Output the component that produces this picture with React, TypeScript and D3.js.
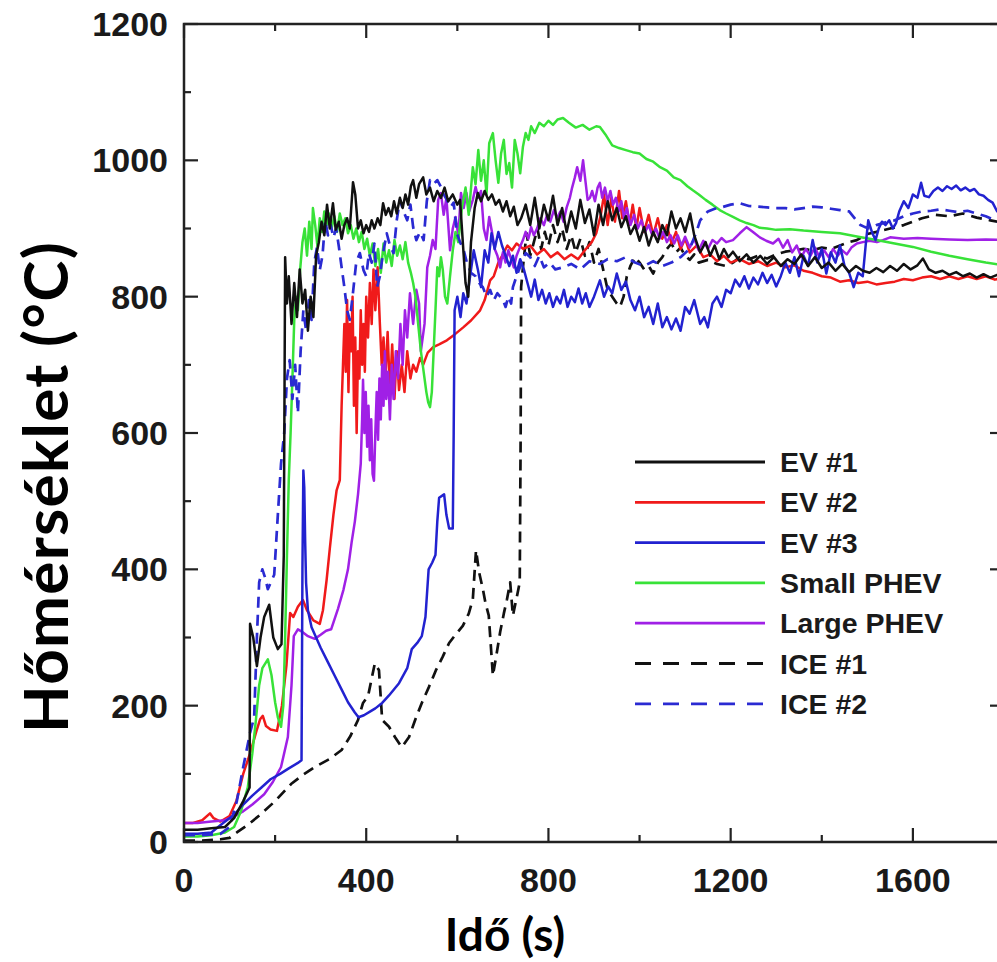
import React from "react";
import * as d3 from "d3";

type Pt = [number, number];

const xTicks = [0, 400, 800, 1200, 1600];
const yTicks = [0, 200, 400, 600, 800, 1000, 1200];
const seriesNames = ["EV #1", "EV #2", "EV #3", "Small PHEV", "Large PHEV", "ICE #1", "ICE #2"];

const ev1: Pt[] = [[0,18],[30,18],[60,20],[90,22],[110,35],[130,60],[144,80],[145,320],[152,300],[160,258],[168,300],[176,330],[187,348],[196,300],[206,283],[214,290],[219,420],[222,858],[226,790],[230,830],[236,760],[242,820],[248,770],[254,840],[260,790],[266,810],[272,750],[278,800],[284,770],[290,860],[296,880],[302,910],[308,890],[314,935],[320,900],[327,937],[333,898],[340,910],[346,885],[352,905],[358,915],[364,900],[371,968],[376,950],[382,900],[388,912],[394,893],[400,905],[406,895],[412,912],[418,900],[425,915],[431,905],[437,937],[443,920],[449,930],[455,918],[461,940],[467,922],[474,945],[480,930],[486,950],[492,935],[498,962],[503,971],[510,945],[516,965],[525,975],[532,950],[540,960],[548,940],[556,955],[564,945],[572,960],[580,940],[590,950],[600,935],[606,942],[612,880],[618,820],[624,800],[630,880],[638,930],[645,952],[652,940],[660,955],[668,942],[676,950],[684,935],[692,942],[700,925],[708,940],[716,918],[724,932],[732,905],[740,915],[750,935],[760,905],[770,945],[780,900],[790,935],[800,912],[810,948],[820,905],[830,930],[840,895],[850,925],[860,900],[870,942],[880,908],[890,928],[900,890],[910,935],[920,905],[930,940],[940,912],[950,930],[960,902],[970,918],[980,892],[990,905],[1000,882],[1010,902],[1020,875],[1030,895],[1040,880],[1050,905],[1060,890],[1070,925],[1080,900],[1090,915],[1100,895],[1111,922],[1120,890],[1133,865],[1145,880],[1155,860],[1165,875],[1175,855],[1185,870],[1195,858],[1205,866],[1220,852],[1235,862],[1250,850],[1265,860],[1280,848],[1295,858],[1310,845],[1325,855],[1340,848],[1355,862],[1370,845],[1385,858],[1400,842],[1415,850],[1430,838],[1445,848],[1460,836],[1475,845],[1490,838],[1505,835],[1520,842],[1535,836],[1550,845],[1565,838],[1580,848],[1595,840],[1610,846],[1622,856],[1635,840],[1650,835],[1665,838],[1680,832],[1695,836],[1710,830],[1725,834],[1740,828],[1755,833],[1770,828],[1785,832],[1800,828]];

const ev2: Pt[] = [[0,28],[20,28],[40,32],[57,42],[65,35],[80,30],[100,38],[115,60],[130,100],[145,130],[160,165],[167,180],[173,185],[180,170],[190,165],[204,163],[215,200],[225,260],[233,336],[240,330],[250,345],[261,355],[270,340],[284,325],[298,320],[305,340],[313,384],[320,430],[328,480],[335,516],[342,531],[346,640],[349,700],[352,760],[355,690],[358,795],[361,660],[364,760],[367,720],[370,800],[373,640],[376,740],[379,600],[382,720],[385,680],[388,780],[391,700],[394,760],[397,690],[400,800],[404,740],[408,820],[412,760],[416,840],[420,780],[425,843],[430,760],[434,700],[438,740],[442,680],[447,748],[452,660],[457,730],[462,650],[467,720],[472,663],[478,700],[484,660],[490,720],[497,680],[503,700],[510,690],[518,710],[525,700],[535,718],[547,726],[560,730],[577,736],[595,745],[613,755],[630,765],[650,780],[660,795],[672,824],[680,830],[690,850],[700,862],[710,875],[720,868],[730,878],[745,870],[760,875],[775,862],[790,870],[805,858],[820,865],[835,855],[850,862],[865,855],[880,868],[895,880],[905,893],[915,920],[922,950],[930,905],[938,945],[946,910],[955,955],[962,915],[970,940],[978,905],[985,935],[993,900],[1000,930],[1010,895],[1020,920],[1030,890],[1040,915],[1050,885],[1060,905],[1070,878],[1080,895],[1090,870],[1100,885],[1110,865],[1125,875],[1140,858],[1155,862],[1170,852],[1185,860],[1200,850],[1220,855],[1240,848],[1260,852],[1280,845],[1300,850],[1320,843],[1340,846],[1360,838],[1380,835],[1400,830],[1420,828],[1440,822],[1460,824],[1480,820],[1500,822],[1520,818],[1540,820],[1560,822],[1580,826],[1600,824],[1620,828],[1640,830],[1660,826],[1680,830],[1700,826],[1720,830],[1740,826],[1760,830],[1780,825],[1800,828]];

const ev3: Pt[] = [[0,12],[30,12],[60,14],[86,28],[110,40],[130,55],[150,68],[170,80],[190,92],[211,100],[230,108],[250,116],[258,120],[260,400],[262,545],[264,520],[266,440],[268,380],[272,340],[280,315],[290,300],[300,285],[315,265],[330,245],[345,225],[360,205],[375,190],[383,183],[395,186],[410,192],[420,196],[435,204],[450,215],[472,233],[490,255],[500,283],[512,292],[522,302],[530,330],[537,400],[545,410],[552,421],[556,470],[560,505],[571,510],[576,480],[582,460],[590,460],[592,600],[594,780],[600,800],[607,770],[613,805],[620,790],[628,830],[636,868],[645,840],[652,814],[660,868],[668,850],[675,893],[682,870],[690,895],[698,875],[706,860],[714,845],[722,860],[730,835],[738,855],[746,840],[754,820],[762,800],[770,825],[778,795],[786,810],[794,790],[802,805],[810,785],[818,800],[826,790],[834,810],[842,785],[850,800],[858,792],[866,812],[874,790],[882,805],[890,785],[900,800],[913,824],[922,800],[931,815],[940,805],[950,834],[960,810],[970,822],[980,795],[990,780],[1000,800],[1010,770],[1020,785],[1030,760],[1040,790],[1050,755],[1060,770],[1070,752],[1080,768],[1090,750],[1100,785],[1110,775],[1120,795],[1133,760],[1142,770],[1150,755],[1160,790],[1170,800],[1180,785],[1190,810],[1200,805],[1210,825],[1220,815],[1230,830],[1240,812],[1250,828],[1260,818],[1270,835],[1280,820],[1290,832],[1300,815],[1310,830],[1320,850],[1330,835],[1340,858],[1350,830],[1360,860],[1370,845],[1380,883],[1390,850],[1400,870],[1410,834],[1420,865],[1430,850],[1440,875],[1450,845],[1460,835],[1470,814],[1480,835],[1490,830],[1497,880],[1502,912],[1510,895],[1518,883],[1525,900],[1532,910],[1540,905],[1548,912],[1556,900],[1563,908],[1570,925],[1580,940],[1590,930],[1600,950],[1610,945],[1618,967],[1625,948],[1635,946],[1645,955],[1655,960],[1665,955],[1675,962],[1685,958],[1695,963],[1705,956],[1715,960],[1725,955],[1735,958],[1745,950],[1755,948],[1765,942],[1775,938],[1785,925],[1800,920]];

const smallPhev: Pt[] = [[0,8],[30,8],[60,10],[90,14],[110,22],[125,45],[140,80],[150,130],[158,180],[165,230],[172,255],[184,268],[192,245],[200,205],[206,183],[213,169],[218,200],[222,300],[226,420],[230,531],[234,600],[238,680],[242,766],[246,800],[250,780],[255,840],[260,880],[265,900],[270,860],[275,910],[280,870],[283,930],[288,905],[293,873],[298,915],[303,895],[308,925],[313,905],[318,922],[324,900],[330,918],[336,895],[342,922],[348,905],[354,915],[360,893],[366,905],[372,885],[378,900],[384,880],[390,895],[396,870],[402,885],[408,860],[414,878],[420,845],[426,870],[432,835],[438,878],[444,850],[450,868],[456,845],[462,883],[468,860],[474,875],[480,855],[486,880],[492,850],[498,835],[503,820],[508,800],[514,760],[520,720],[526,690],[532,660],[536,645],[540,638],[544,660],[548,720],[552,780],[556,843],[560,830],[564,858],[568,840],[573,800],[578,790],[584,830],[590,868],[596,895],[602,880],[610,930],[618,960],[625,920],[634,990],[640,965],[646,1015],[652,970],[658,1000],[664,950],[670,1025],[678,1040],[684,1000],[690,967],[696,1010],[702,1030],[708,980],[714,996],[720,960],[726,1030],[732,1010],[738,981],[744,1020],[750,1040],[756,1030],[762,1050],[770,1040],[780,1055],[790,1050],[800,1058],[810,1052],[820,1060],[832,1062],[845,1055],[860,1048],[875,1052],[890,1045],[905,1050],[913,1049],[925,1038],[940,1022],[955,1018],[970,1015],[985,1012],[1000,1010],[1015,1002],[1030,998],[1045,990],[1060,985],[1075,975],[1090,971],[1105,962],[1117,956],[1130,950],[1145,942],[1160,935],[1176,927],[1190,922],[1205,917],[1220,912],[1235,908],[1250,905],[1264,901],[1280,900],[1300,898],[1330,899],[1360,897],[1400,895],[1440,893],[1480,888],[1520,883],[1560,878],[1600,873],[1640,866],[1680,860],[1720,855],[1760,850],[1800,846]];

const largePhev: Pt[] = [[0,28],[30,28],[60,30],[90,32],[110,38],[130,45],[150,55],[176,70],[195,88],[213,110],[228,154],[236,230],[241,302],[250,312],[260,308],[272,302],[287,298],[300,304],[312,310],[323,312],[338,342],[350,370],[360,400],[368,440],[375,470],[382,510],[388,555],[391,620],[393,678],[396,600],[399,660],[402,580],[405,640],[408,560],[411,620],[414,540],[417,530],[420,600],[423,660],[426,590],[429,680],[432,620],[435,700],[438,640],[441,720],[444,650],[448,690],[452,620],[456,700],[460,650],[465,720],[470,680],[475,760],[480,700],[485,780],[490,740],[496,805],[503,760],[510,810],[516,790],[520,720],[528,760],[534,843],[540,860],[546,883],[552,870],[558,942],[564,952],[570,920],[576,945],[584,868],[590,900],[596,917],[602,890],[608,952],[614,930],[620,952],[626,925],[634,942],[640,961],[646,945],[652,955],[658,900],[664,883],[670,917],[676,895],[682,870],[688,860],[694,843],[700,865],[706,850],[712,868],[718,855],[724,843],[730,860],[737,872],[744,883],[750,895],[756,885],[762,902],[768,890],[775,900],[782,915],[790,905],[797,920],[804,910],[812,927],[819,915],[826,925],[833,910],[840,931],[847,945],[852,960],[858,975],[863,990],[870,970],[876,1000],[882,965],[886,942],[891,945],[896,955],[902,940],[908,960],[913,967],[918,945],[924,960],[930,940],[936,955],[942,935],[948,945],[954,925],[960,940],[966,915],[972,930],[980,905],[988,920],[996,900],[1004,912],[1012,895],[1020,905],[1028,890],[1036,900],[1044,885],[1052,895],[1060,880],[1068,890],[1076,878],[1084,890],[1092,875],[1100,888],[1110,872],[1120,885],[1130,868],[1140,882],[1150,870],[1160,883],[1170,878],[1180,886],[1190,880],[1205,883],[1220,893],[1235,902],[1249,895],[1264,887],[1278,882],[1293,878],[1305,885],[1315,872],[1325,883],[1335,865],[1345,875],[1355,858],[1365,870],[1375,860],[1385,872],[1395,858],[1405,868],[1415,858],[1425,870],[1435,860],[1445,868],[1455,862],[1465,872],[1477,878],[1490,880],[1505,882],[1521,880],[1534,883],[1550,887],[1580,885],[1610,886],[1640,885],[1680,884],[1720,883],[1760,884],[1800,883]];

const ice1: Pt[] = [[0,2],[40,2],[80,4],[100,6],[116,14],[140,25],[169,41],[200,60],[235,85],[260,98],[287,110],[320,122],[346,135],[365,155],[382,179],[393,204],[404,214],[412,240],[419,262],[428,252],[435,179],[450,169],[463,154],[478,139],[494,154],[508,180],[522,204],[538,228],[553,252],[568,272],[582,292],[597,305],[612,317],[625,335],[634,356],[641,428],[648,395],[656,371],[662,350],[669,332],[678,244],[686,275],[694,308],[702,335],[709,356],[716,381],[722,332],[731,361],[737,381],[739,600],[740,814],[745,850],[752,893],[760,860],[768,880],[776,900],[784,870],[792,895],[800,875],[810,905],[820,880],[830,900],[840,870],[850,890],[860,865],[870,885],[880,860],[890,880],[900,850],[910,870],[920,840],[930,810],[940,800],[950,790],[957,785],[965,800],[972,830],[980,845],[990,858],[1000,850],[1010,840],[1020,845],[1030,834],[1040,850],[1050,858],[1060,870],[1070,878],[1080,865],[1090,872],[1100,860],[1110,854],[1120,862],[1130,850],[1150,854],[1170,848],[1190,845],[1205,850],[1220,858],[1240,855],[1260,860],[1280,856],[1300,862],[1320,866],[1340,868],[1360,870],[1380,868],[1400,872],[1420,870],[1440,875],[1460,880],[1477,883],[1490,888],[1500,892],[1520,895],[1550,900],[1580,905],[1600,910],[1620,915],[1650,920],[1680,918],[1710,922],[1740,916],[1770,912],[1800,908]];

const ice2: Pt[] = [[0,10],[40,10],[80,12],[100,22],[116,60],[130,110],[145,160],[154,183],[160,300],[165,381],[172,400],[178,388],[184,371],[190,380],[198,392],[206,480],[213,555],[220,600],[226,680],[232,707],[238,650],[244,700],[250,629],[256,720],[262,780],[268,750],[274,795],[280,766],[286,850],[292,873],[298,839],[304,860],[310,912],[316,890],[322,905],[328,887],[334,900],[340,873],[346,843],[352,814],[358,780],[364,766],[370,800],[378,850],[386,864],[394,839],[400,830],[406,864],[412,850],[418,878],[424,814],[430,830],[436,860],[445,893],[452,875],[460,864],[467,912],[474,942],[482,925],[490,912],[497,935],[503,902],[510,883],[518,895],[526,883],[533,940],[540,971],[548,965],[556,971],[564,961],[570,950],[577,942],[585,931],[592,938],[599,893],[606,880],[614,868],[621,850],[630,835],[640,830],[648,820],[656,814],[664,800],[672,810],[680,795],[688,805],[694,800],[700,795],[706,785],[712,800],[718,790],[722,814],[730,830],[740,848],[750,864],[760,858],[770,845],[780,860],[790,843],[803,850],[815,840],[832,843],[850,848],[870,840],[890,852],[913,848],[930,855],[950,852],[970,858],[990,850],[1010,845],[1030,852],[1050,845],[1070,850],[1090,858],[1110,870],[1125,895],[1133,912],[1150,925],[1165,929],[1180,931],[1200,935],[1220,937],[1240,933],[1260,932],[1280,931],[1300,930],[1320,930],[1340,928],[1360,930],[1380,932],[1400,931],[1420,929],[1440,927],[1460,925],[1476,912],[1485,905],[1495,902],[1505,900],[1520,905],[1545,910],[1560,912],[1580,918],[1600,922],[1620,925],[1640,926],[1660,928],[1680,926],[1700,924],[1720,926],[1740,922],[1760,918],[1780,912],[1800,905]];

const seriesData: Pt[][] = [ev1, ev2, ev3, smallPhev, largePhev, ice1, ice2];
const seriesColors = ["#111111", "#f01a1a", "#2222d0", "#38e238", "#a020e6", "#111111", "#2a2ad2"];
const seriesDash = [null, null, null, null, null, "11,7", "11,7"];
const drawOrder = [5, 1, 4, 3, 2, 6, 0];

const W = 997, H = 962;
const X0 = 184, X1 = 1004, Y0 = 24, Y1 = 842;

export default function App() {
  const x = d3.scaleLinear().domain([0, 1800]).range([X0, X1]);
  const y = d3.scaleLinear().domain([0, 1200]).range([Y1, Y0]);
  const line = d3.line<Pt>().x(d => x(d[0])).y(d => y(d[1]));

  const xMinor = d3.range(0, 1801, 200);
  const yMinor = d3.range(0, 1201, 100);
  const tickFont = "'Liberation Sans', Arial, Helvetica, sans-serif";
  const axisCol = "#222";

  return (
    <svg width={W} height={H} style={{ position: "absolute", left: 0, top: 0, background: "#fff" }}>
      <defs>
        <clipPath id="plotclip">
          <rect x={X0} y={Y0} width={X1 - X0} height={Y1 - Y0} />
        </clipPath>
      </defs>
      <rect x={0} y={0} width={W} height={H} fill="#fff" />
      <g clipPath="url(#plotclip)">
        {drawOrder.map(i => (
          <path key={i} d={line(seriesData[i]) || ""} fill="none" stroke={seriesColors[i]}
            strokeWidth={i >= 5 ? 2.7 : 2.5} strokeDasharray={seriesDash[i] || undefined}
            strokeLinejoin="round" />
        ))}
      </g>
      <rect x={X0} y={Y0} width={X1 - X0} height={Y1 - Y0} fill="none" stroke={axisCol} strokeWidth={2.5} />
      {xMinor.map(v => {
        const len = v % 400 === 0 ? 14 : 7;
        return (
          <g key={"xt" + v}>
            <line x1={x(v)} x2={x(v)} y1={Y1} y2={Y1 - len} stroke={axisCol} strokeWidth={2.2} />
            <line x1={x(v)} x2={x(v)} y1={Y0} y2={Y0 + len} stroke={axisCol} strokeWidth={2.2} />
          </g>
        );
      })}
      {yMinor.map(v => {
        const len = v % 200 === 0 ? 14 : 7;
        return (
          <g key={"yt" + v}>
            <line x1={X0} x2={X0 + len} y1={y(v)} y2={y(v)} stroke={axisCol} strokeWidth={2.2} />
            <line x1={X1} x2={X1 - len} y1={y(v)} y2={y(v)} stroke={axisCol} strokeWidth={2.2} />
          </g>
        );
      })}
      {xTicks.map(v => (
        <text key={"xl" + v} x={x(v)} y={892} textAnchor="middle" fontFamily={tickFont}
          fontWeight="bold" fontSize={34} fill="#1a1a1a">{v}</text>
      ))}
      {yTicks.map(v => (
        <text key={"yl" + v} x={168} y={y(v) + 12} textAnchor="end" fontFamily={tickFont}
          fontWeight="bold" fontSize={34} fill="#1a1a1a">{v}</text>
      ))}
      {seriesNames.map((name, i) => {
        const ly = 462 + i * 40.3;
        return (
          <g key={"lg" + i}>
            <line x1={635} x2={765} y1={ly} y2={ly} stroke={seriesColors[i]} strokeWidth={2.8}
              strokeDasharray={seriesDash[i] ? "16,12" : undefined} />
            <text x={780} y={ly + 10} fontFamily={tickFont} fontWeight="bold" fontSize={28.5} fill="#1a1a1a">{name}</text>
          </g>
        );
      })}
      <text x={505} y={951} textAnchor="middle" fontFamily="Lato, 'Open Sans', sans-serif" fontWeight="bold"
        fontSize={46} fill="#000">Idő (s)</text>
      <text transform="translate(68,487) rotate(-90)" textAnchor="middle" fontFamily="Lato, 'Open Sans', sans-serif"
        fontWeight="bold" fontSize={62} letterSpacing={1.3} fill="#000">Hőmérséklet (°C)</text>
    </svg>
  );
}
